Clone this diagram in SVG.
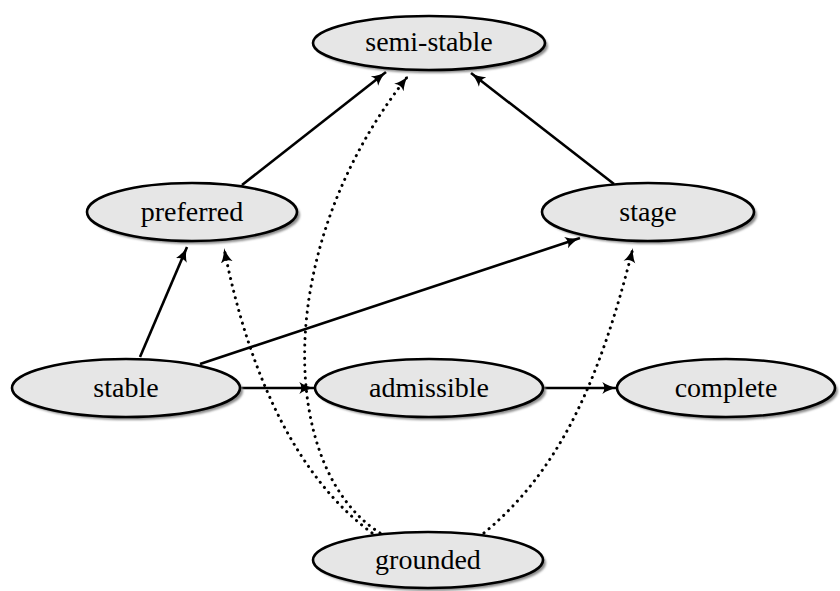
<svg xmlns="http://www.w3.org/2000/svg" width="840" height="591" viewBox="0 0 840 591">
<style>
.sh{fill:#8c8c8c;filter:url(#blur)}
.nd{fill:#e6e6e6;stroke:#000;stroke-width:2.6}
.lb{font-family:"Liberation Serif","Times New Roman",serif;font-size:28px;text-anchor:middle;fill:#000}
.e{fill:none;stroke:#000;stroke-width:2.6;marker-end:url(#ah)}
.d{fill:none;stroke:#000;stroke-width:3;stroke-dasharray:0.1 6.5;stroke-linecap:round;marker-end:url(#ah)}
</style>
<defs>
<filter id="blur" x="-10%" y="-20%" width="120%" height="140%"><feGaussianBlur stdDeviation="1.2"/></filter>
<marker id="ah" markerUnits="userSpaceOnUse" markerWidth="16" markerHeight="14" viewBox="0 0 12 10" refX="11" refY="5" orient="auto">
<path d="M0,0.5 Q5,4 11,5 Q5,6 0,9.5 Q3,5 0,0.5 z" fill="#000"/>
</marker>
</defs>
<g id="edges">
<line class="e" x1="242" y1="185" x2="386" y2="72"/>
<line class="e" x1="614" y1="184" x2="471" y2="73"/>
<line class="e" x1="140" y1="357" x2="187" y2="247"/>
<line class="e" x1="200" y1="364" x2="580" y2="238"/>
<line class="e" x1="240" y1="388" x2="314" y2="388"/>
<line class="e" x1="543" y1="388" x2="617" y2="388"/>
<path class="d" d="M380,533 C280,470 270,250 408,76"/>
<path class="d" d="M372,533 C300,480 250,380 224,248"/>
<path class="d" d="M484,533 C560,470 600,380 633,248"/>
</g>
<g id="semi-stable">
<ellipse class="sh" cx="432" cy="46" rx="116" ry="27"/>
<ellipse class="nd" cx="429" cy="43" rx="116" ry="27"/>
<text class="lb" x="429" y="51">semi-stable</text>
</g>
<g id="preferred">
<ellipse class="sh" cx="195" cy="215" rx="105" ry="29"/>
<ellipse class="nd" cx="192" cy="212" rx="105" ry="29"/>
<text class="lb" x="192" y="221">preferred</text>
</g>
<g id="stage">
<ellipse class="sh" cx="651" cy="215" rx="106" ry="29"/>
<ellipse class="nd" cx="648" cy="212" rx="106" ry="29"/>
<text class="lb" x="648" y="221">stage</text>
</g>
<g id="stable">
<ellipse class="sh" cx="129" cy="391" rx="114" ry="29"/>
<ellipse class="nd" cx="126" cy="388" rx="114" ry="29"/>
<text class="lb" x="126" y="397">stable</text>
</g>
<g id="admissible">
<ellipse class="sh" cx="432" cy="391" rx="114" ry="29"/>
<ellipse class="nd" cx="429" cy="388" rx="114" ry="29"/>
<text class="lb" x="429" y="397">admissible</text>
</g>
<g id="complete">
<ellipse class="sh" cx="729" cy="391" rx="109" ry="29"/>
<ellipse class="nd" cx="726" cy="388" rx="109" ry="29"/>
<text class="lb" x="726" y="397">complete</text>
</g>
<g id="grounded">
<ellipse class="sh" cx="431" cy="563" rx="115" ry="28"/>
<ellipse class="nd" cx="428" cy="560" rx="115" ry="28"/>
<text class="lb" x="428" y="569">grounded</text>
</g>
</svg>
